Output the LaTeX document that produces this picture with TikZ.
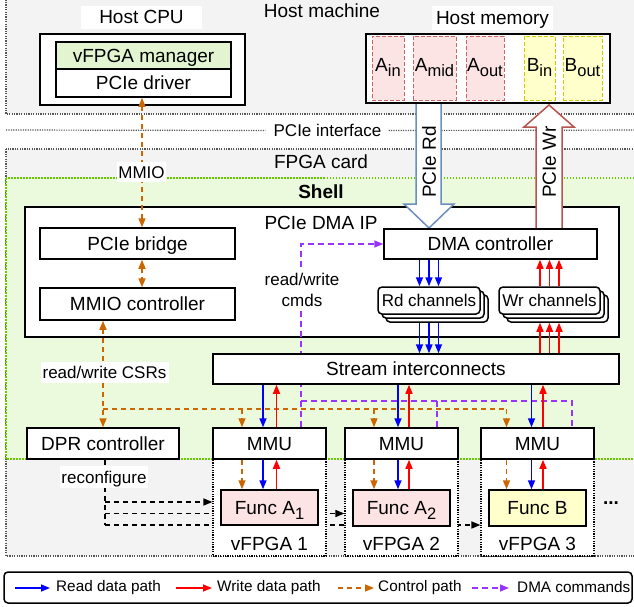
\documentclass[tikz,border=0pt]{standalone}
\usepackage{fontspec}
\setmainfont{Liberation Sans}
\usetikzlibrary{arrows.meta}
\newcommand{\myfA}{\fontsize{19}{22}\selectfont}
\newcommand{\myfB}{\fontsize{17}{21}\selectfont}
\newcommand{\myfC}{\fontsize{15.3}{18}\selectfont}
\newcommand{\mysub}[1]{\raisebox{-5pt}{\fontsize{16.5}{18}\selectfont #1}}
\definecolor{regfill}{HTML}{F3F3F3}
\definecolor{shellgreen}{HTML}{EBFADC}
\definecolor{shellline}{HTML}{66CC00}
\definecolor{mgrgreen}{HTML}{E3F5D0}
\definecolor{pinkf}{HTML}{FDE4E4}
\definecolor{pinkd}{HTML}{CC6666}
\definecolor{yelf}{HTML}{FFFFCC}
\definecolor{yeld}{HTML}{CCCC00}
\definecolor{ctlc}{HTML}{CC6600}
\definecolor{cmdc}{HTML}{9933FF}
\definecolor{rdarr}{HTML}{6C8EBF}
\definecolor{wrarr}{HTML}{B85450}
\definecolor{dotgray}{HTML}{555555}
\pgfdeclarelayer{bg}
\pgfdeclarelayer{mid}
\pgfsetlayers{bg,mid,main}
\begin{document}
\begin{tikzpicture}[x=1pt,y=-1pt,
  box/.style={draw, line width=1.5pt, fill=white, inner sep=0pt, font=\myfA, text height=13.6pt, text depth=0pt},
  capA/.style={font=\myfA, inner sep=0pt, text height=13.6pt, text depth=0pt},
  capB/.style={font=\myfB, inner sep=0pt, text height=12.2pt, text depth=0pt},
  memA/.style={draw=pinkd, fill=pinkf, line width=1pt, dash pattern=on 4pt off 2pt, font=\myfA, inner sep=0pt, text height=13.6pt, text depth=7.6pt},
  memB/.style={memA, draw=yeld, fill=yelf},
  regline/.style={draw=dotgray, line width=1.2pt, dash pattern=on 1.2pt off 1.2pt},
  vfp/.style={draw=black, fill=white, line width=1.2pt, dash pattern=on 1.2pt off 1.2pt, inner sep=0pt},
  arrtip/.style={-{Triangle[length=9pt,width=7pt]}},
  rdp/.style={draw=blue, line width=1.5pt, arrtip},
  wrp/.style={draw=red, line width=1.5pt, arrtip},
  ctlp/.style={draw=ctlc, line width=1.5pt, dash pattern=on 5pt off 4pt},
  ctla/.style={ctlp, arrtip},
  ctlb/.style={ctlp, {Triangle[length=9pt,width=7pt]}-{Triangle[length=9pt,width=7pt]}},
  cmdp/.style={draw=cmdc, line width=1.5pt, dash pattern=on 6pt off 4pt},
  rcfp/.style={draw=black, line width=1.5pt, dash pattern=on 5pt off 4pt},
  chan/.style={box, font=\myfB, text height=12.2pt, rounded corners=4pt, minimum width=102pt, minimum height=27pt},
  mmubox/.style={box, minimum width=113pt, minimum height=31pt},
  funcbox/.style={box, fill=pinkf, minimum width=97pt, minimum height=36pt}
]
\useasboundingbox (0,0) rectangle (634,606);
\clip (0,0) rectangle (634,606);

% ---------- regions ----------
\begin{pgfonlayer}{bg}
\fill[regfill] (6,-10) rectangle (660,114);
\draw[regline] (6,-10) rectangle (660,114);
\fill[regfill] (6,149) rectangle (660,556);
\draw[regline] (6,149) rectangle (660,556);
\fill[shellgreen] (6,178) rectangle (660,459);
\draw[draw=shellline, line width=1.5pt, dash pattern=on 1.5pt off 1.5pt] (6,178) rectangle (660,459);
\end{pgfonlayer}

\node[capA] (hostmachine) at (322,11) {Host machine};
\node[capB] (pcieif) at (327.5,130.5) {PCIe interface};
\draw[regline] (6,130) -- ([xshift=-8pt]pcieif.west);
\draw[regline] ([xshift=7pt]pcieif.east) -- (660,130);
\node[capA] (fpgacard) at (321,162) {FPGA card};
\node[capA, font={\myfA\bfseries}] (shell) at (321,192) {Shell};

% ---------- host CPU ----------
\node[capA, fill=white, minimum width=121pt, minimum height=23pt] (hostcpul) at (141.5,17) {Host CPU};
\node[box, line width=2pt, minimum width=205pt, minimum height=71pt] (hostcpu) at (142.5,69.5) {};
\node[box, fill=mgrgreen, minimum width=175pt, minimum height=27pt] (vfmgr) at (143.5,55.5) {vFPGA manager};
\node[box, minimum width=175pt, minimum height=28pt] (pcied) at (143.5,83) {PCIe driver};

% ---------- PCIe DMA IP ----------
\node[box, minimum width=594pt, minimum height=130pt] (dmaip) at (322,272) {};
\node[capA] (dmaipl) at (321,223) {PCIe DMA IP};

% fat PCIe arrows
\draw[line width=1.5pt, draw=rdarr, fill=white] (416,103) -- (441,103) -- (441,204) -- (454,204) -- (429,228) -- (404,204) -- (416,204) -- cycle;
\node[capA, rotate=90] (pcierd) at (429,162) {PCIe Rd};
\draw[line width=1.5pt, draw=wrarr, fill=white] (536,230) -- (562,230) -- (562,127) -- (574,127) -- (549,105) -- (524,127) -- (536,127) -- cycle;
\node[capA, rotate=90] (pciewr) at (549,162) {PCIe Wr};

% ---------- host memory ----------
\node[capA, fill=white, minimum width=121pt, minimum height=24pt] (hostmeml) at (492.5,17.5) {Host memory};
\node[box, line width=2pt, minimum width=244pt, minimum height=69pt] (hostmem) at (488,68.5) {};
\node[memA, minimum width=32pt, minimum height=64pt] (ain) at (388,68) {A\mysub{in}};
\node[memA, minimum width=43pt, minimum height=64pt] (amid) at (434.5,68) {A\mysub{mid}};
\node[memA, minimum width=38pt, minimum height=64pt] (aout) at (485,68) {A\mysub{out}};
\node[memB, minimum width=31pt, minimum height=64pt] (bin) at (539.5,68) {B\mysub{in}};
\node[memB, minimum width=39pt, minimum height=64pt] (bout) at (582.5,68) {B\mysub{out}};

% ---------- shell boxes ----------
\node[box, minimum width=195pt, minimum height=31pt] (pciebridge) at (137.5,243.5) {PCIe bridge};
\node[box, minimum width=195pt, minimum height=32pt] (mmioctrl) at (137.5,304) {MMIO controller};
\node[box, minimum width=213pt, minimum height=30pt] (dmactrl) at (490.5,244) {DMA controller};
\node[chan] (rdch3) at (437,308.5) {};
\node[chan] (rdch2) at (433,304.5) {};
\node[chan] (rdch) at (429,300.5) {Rd channels};
\node[chan, minimum width=101pt] (wrch3) at (557.5,308.5) {};
\node[chan, minimum width=101pt] (wrch2) at (553.5,304.5) {};
\node[chan, minimum width=101pt] (wrch) at (549.5,300.5) {Wr channels};

% ---------- vFPGA regions ----------
\node[vfp, minimum width=113pt, minimum height=97pt] (vf1) at (269.5,507.5) {};
\node[vfp, minimum width=113pt, minimum height=97pt] (vf2) at (401.5,507.5) {};
\node[vfp, minimum width=113pt, minimum height=97pt] (vf3) at (537.5,507.5) {};
\node[capA] (vf1l) at (269.5,544) {vFPGA 1};
\node[capA] (vf2l) at (401.5,544) {vFPGA 2};
\node[capA] (vf3l) at (537.5,544) {vFPGA 3};

\node[mmubox] (mmu1) at (269.5,443.5) {MMU};
\node[mmubox] (mmu2) at (401.5,443.5) {MMU};
\node[mmubox] (mmu3) at (537.5,443.5) {MMU};
\node[box, minimum width=152pt, minimum height=31pt] (dpr) at (103,443.5) {DPR controller};

\node[funcbox, minimum height=35pt] (funcA1) at (269.5,507.5) {Func A\mysub{1}};
\node[funcbox] (funcA2) at (401.5,508) {Func A\mysub{2}};
\node[funcbox, fill=yelf] (funcB) at (537.5,508) {Func B};
\node[font={\myfA\bfseries}, inner sep=0pt] (dots) at (611,503) {...};

% per-MMU connector positions
\foreach \mm/\ox/\bx/\rx/\px in {mmu1/-27.5/-6.5/7/31.5, mmu2/-27.5/-3.5/7.5/35.5, mmu3/-31/-6/5.5/34.5}{
  \coordinate (o\mm) at ([xshift=\ox pt]\mm.north);
  \coordinate (b\mm) at ([xshift=\bx pt]\mm.north);
  \coordinate (r\mm) at ([xshift=\rx pt]\mm.north);
  \coordinate (p\mm) at ([xshift=\px pt]\mm.north);
}

% ---------- DMA commands ----------
\coordinate (pbus) at (301,401);
\draw[cmdp, arrtip] (pmmu1) -- (pmmu1 |- dmactrl.west) -- (dmactrl.west);
\draw[cmdp] (pbus) -- (pbus -| pmmu3) -- (pmmu3);
\draw[cmdp] (pbus -| pmmu2) -- (pmmu2);
\node[font=\myfB, fill=white, align=center, inner sep=2pt] (rwcmds) at (302,290) {read/write\\cmds};

\node[box, minimum width=406pt, minimum height=30pt] (stream) at (416,369) {Stream interconnects};

% ---------- channel arrows ----------
\foreach \dx [count=\k] in {-9.5,0,9.5}{
  \coordinate (rdx\k) at ([xshift=\dx pt]rdch.north);
  \coordinate (wrx\k) at ([xshift=\dx pt]wrch.north);
  \draw[rdp] (rdx\k |- dmactrl.south) -- (rdx\k);
  \draw[rdp] (rdx\k |- rdch3.south) -- (rdx\k |- stream.north);
  \draw[wrp] (wrx\k) -- (wrx\k |- dmactrl.south);
  \draw[wrp] (wrx\k |- stream.north) -- (wrx\k |- wrch3.south);
}

% ---------- control path ----------
\coordinate (mm) at ([xshift=-1.5pt]pcied.south);
\draw[ctlb] (mm) -- (mm |- pciebridge.north);
\node[capB, fill=white, minimum width=49pt, minimum height=20pt] (mmiol) at (141.5,172) {MMIO};
\draw[ctlb] (mm |- pciebridge.south) -- (mm |- mmioctrl.north);
\draw[ctlb] (dpr.north |- mmioctrl.south) -- (dpr.north);
\node[capB, fill=white, minimum width=128pt, minimum height=21pt] (csrl) at (104.5,372) {read/write CSRs};
\coordinate (bus) at (103,409);
\draw[ctlp] (bus) -- (bus -| ommu3);

\foreach \mm/\ff in {mmu1/funcA1, mmu2/funcA2, mmu3/funcB}{
  \draw[ctla] (bus -| o\mm) -- (o\mm);
  \draw[rdp] (b\mm |- stream.south) -- (b\mm);
  \draw[wrp] (r\mm) -- (r\mm |- stream.south);
  \draw[ctla] (o\mm |- \mm.south) -- (o\mm |- \ff.north);
  \draw[rdp] (b\mm |- \mm.south) -- (b\mm |- \ff.north);
  \draw[wrp] (r\mm |- \ff.north) -- (r\mm |- \mm.south);
}

% ---------- reconfigure ----------
\begin{pgfonlayer}{mid}
\coordinate (rc0) at ([xshift=2pt]dpr.south);
\coordinate (rc1) at (105,502);
\coordinate (rc2) at (105,513.5);
\coordinate (rc3) at (105,525);
\draw[rcfp] (rc0) -- (rc3);
\draw[rcfp, arrtip] (rc1) -- (rc1 -| vf1.west);
\draw[rcfp, arrtip] (rc2) -- (rc2 -| vf2.west);
\draw[rcfp, arrtip] (rc3) -- (rc3 -| vf3.west);
\end{pgfonlayer}
\node[capB, fill=white, minimum width=88pt, minimum height=22pt] (reconfl) at (104,477) {reconfigure};

% ---------- legend ----------
\node[draw, line width=1.5pt, rounded corners=4pt, minimum width=628pt, minimum height=31pt, inner sep=0pt] (legend) at (318,587.5) {};
\coordinate (la1) at (15,588); \coordinate (lb1) at (50,588);
\coordinate (la2) at (176,588); \coordinate (lb2) at (212,588);
\coordinate (la3) at (338,588); \coordinate (lb3) at (374,588);
\coordinate (la4) at (472,588); \coordinate (lb4) at (509,588);
\draw[rdp] (la1) -- (lb1);
\draw[wrp] (la2) -- (lb2);
\draw[ctla] (la3) -- (lb3);
\draw[cmdp, arrtip] (la4) -- (lb4);
\node[font=\myfC, anchor=west, inner sep=0pt] (lt1) at (56,587.5) {Read data path};
\node[font=\myfC, anchor=west, inner sep=0pt] (lt2) at (217,587.5) {Write data path};
\node[font=\myfC, anchor=west, inner sep=0pt] (lt3) at (378,587.5) {Control path};
\node[font=\myfC, anchor=west, inner sep=0pt] (lt4) at (517,587.5) {DMA commands};
\end{tikzpicture}
\end{document}
